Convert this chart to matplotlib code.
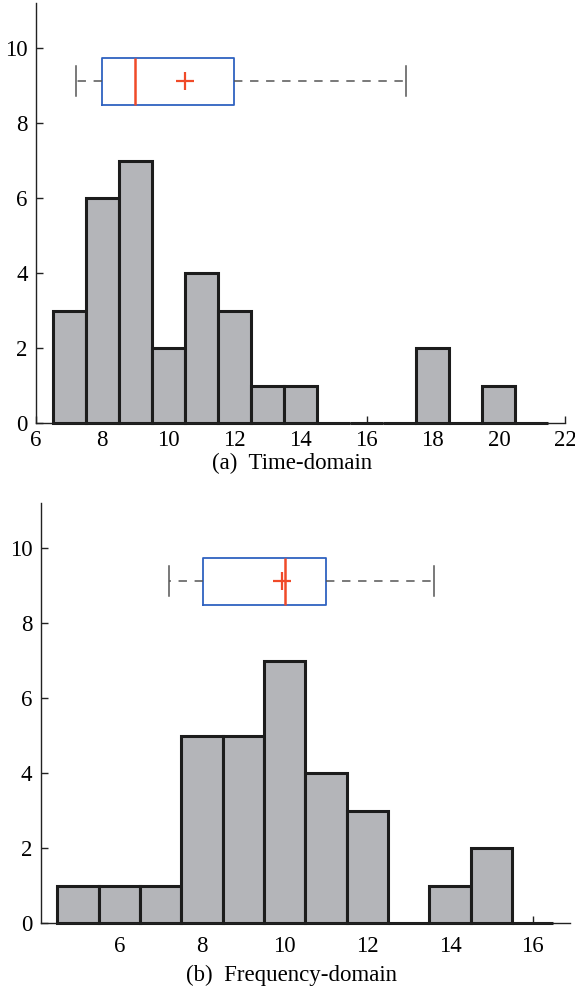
import matplotlib.pyplot as plt

# histogram data (bin centres and counts)
time_centers = [7, 8, 9, 10, 11, 12, 13, 14, 15, 16, 17, 18, 19, 20, 21]
time_counts = [3, 6, 7, 2, 4, 3, 1, 1, 0, 0, 0, 2, 0, 1, 0]
freq_centers = [5, 6, 7, 8, 9, 10, 11, 12, 13, 14, 15, 16]
freq_counts = [1, 1, 1, 5, 5, 7, 4, 3, 0, 1, 2, 0]

# box plot summaries: whisker low, q1, median, q3, whisker high, mean
time_box = [7.2, 8.0, 9.0, 12.0, 17.2, 10.5]
freq_box = [7.2, 8.02, 10.0, 11.0, 13.6, 9.94]

time_xticks = [6, 8, 10, 12, 14, 16, 18, 20, 22]
freq_xticks = [6, 8, 10, 12, 14, 16]
yticks = [0, 2, 4, 6, 8, 10]

plt.rcParams['font.family'] = ['Liberation Serif', 'DejaVu Serif']
plt.rcParams['font.size'] = 16.5

fig = plt.figure(figsize=(5.75, 9.94), dpi=100)
ax1 = fig.add_axes([36 / 575, 1 - 423 / 994, 529 / 575, 420 / 994])
ax2 = fig.add_axes([40.7 / 575, 1 - 923 / 994, 529.3 / 575, 420 / 994])


def draw_panel(ax, centers, counts, box, xlim, xticks, xpad):
    ax.bar(centers, counts, width=1.0, color='#b4b5b9', edgecolor='#1c1c1c',
           linewidth=2.2, clip_on=False, zorder=2)
    lo, q1, med, q3, hi, mean = box
    stats = [dict(whislo=lo, q1=q1, med=med, q3=q3, whishi=hi, mean=mean, fliers=[])]
    ax.bxp(stats, positions=[9.11], widths=1.25, vert=False, showmeans=True,
           capwidths=[0.8], manage_ticks=False,
           boxprops=dict(color='#2f62c0', linewidth=1.3),
           medianprops=dict(color='#f04a28', linewidth=1.8),
           whiskerprops=dict(color='#555555', linewidth=1.1, linestyle=(0, (5.5, 5))),
           capprops=dict(color='#555555', linewidth=1.1),
           meanprops=dict(marker='+', markeredgecolor='#f04a28', markersize=13,
                          markeredgewidth=1.6))
    ax.set_xlim(*xlim)
    ax.set_ylim(0, 11.2)
    ax.set_xticks(xticks)
    ax.set_yticks(yticks)
    for s in ['top', 'right']:
        ax.spines[s].set_visible(False)
    for s in ['left', 'bottom']:
        ax.spines[s].set_color('#222222')
        ax.spines[s].set_linewidth(1.0)
    ax.tick_params(axis='both', direction='in', length=5, width=1.0, color='#222222')
    ax.tick_params(axis='x', pad=xpad)
    ax.tick_params(axis='y', pad=6)


draw_panel(ax1, time_centers, time_counts, time_box, (6, 22), time_xticks, 5)
draw_panel(ax2, freq_centers, freq_counts, freq_box, (4.1, 16.9), freq_xticks, 9)

fig.text(292 / 575, 1 - 463 / 994, '(a)  Time-domain', ha='center', va='center')
fig.text(292 / 575, 1 - 975 / 994, '(b)  Frequency-domain', ha='center', va='center')

fig.savefig('out.png', dpi=100)
